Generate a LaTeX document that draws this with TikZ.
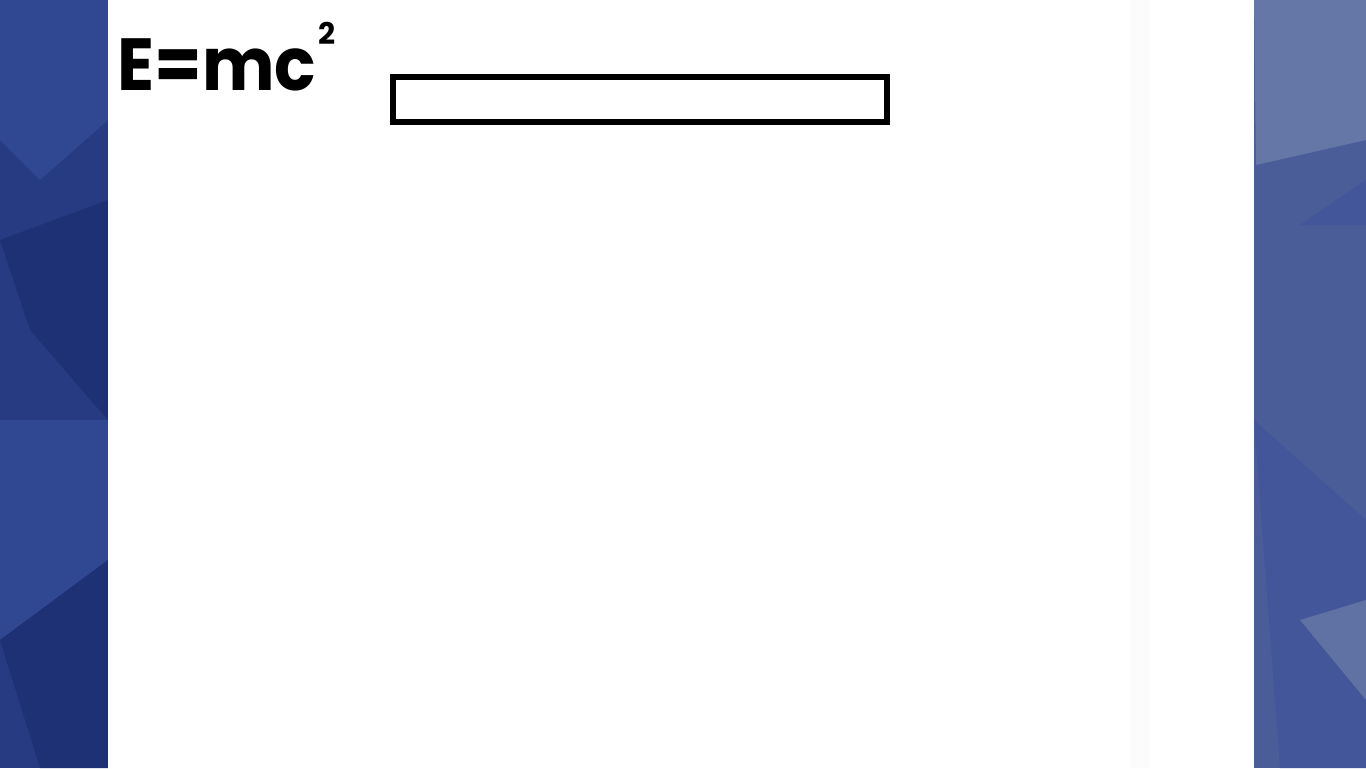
\documentclass[tikz,border=0pt]{standalone}
\usepackage{fontspec}
\newfontfamily\handfont{Poppins}
\usepackage{tikz}
\definecolor{navy}{HTML}{263B82}
\definecolor{navyl}{HTML}{2F4891}
\definecolor{navyd}{HTML}{1F3175}
\definecolor{slate}{HTML}{4A5D98}
\definecolor{slatel}{HTML}{6477A6}
\definecolor{slated}{HTML}{43569A}
\tikzstyle{frame}=[draw, line width=0.12cm, minimum width=9.88cm, minimum height=0.9cm, inner sep=0pt]
\tikzstyle{hand}=[font=\handfont\bfseries, inner sep=0pt, anchor=base west]

\begin{document}
\begin{tikzpicture}[x=0.02cm, y=-0.02cm]
\useasboundingbox (0,0) rectangle (1366,768);

% left band
\fill[navy] (0,0) rectangle (108,768);
\fill[navyl] (0,0) -- (108,0) -- (108,120) -- (40,180) -- (0,140) -- cycle;
\fill[navyd] (0,240) -- (108,200) -- (108,420) -- (30,330) -- cycle;
\fill[navyl] (0,420) -- (108,420) -- (108,560) -- (0,640) -- cycle;
\fill[navyd] (0,640) -- (108,560) -- (108,768) -- (40,768) -- cycle;

% right band
\fill[slate] (1254,0) rectangle (1366,768);
\fill[slatel] (1254,0) -- (1366,0) -- (1366,140) -- (1256,165) -- cycle;
\fill[slated] (1300,225) -- (1366,180) -- (1366,225) -- cycle;
\fill[slated] (1254,420) -- (1366,520) -- (1366,768) -- (1280,768) -- cycle;
\fill[slatel!80!slate] (1300,620) -- (1366,600) -- (1366,700) -- cycle;

% white sheet
\fill[white] (108,0) rectangle (1254,768);
\fill[black!1] (1130,0) rectangle (1150,768);

\node[hand, xscale=3.9, yscale=4.2] (eq) at (116,90) {E=mc};
\node[hand, scale=1.7] (sq) at (318,44) {2};

\node[frame] (box) at (640,99.5) {};

\end{tikzpicture}
\end{document}
